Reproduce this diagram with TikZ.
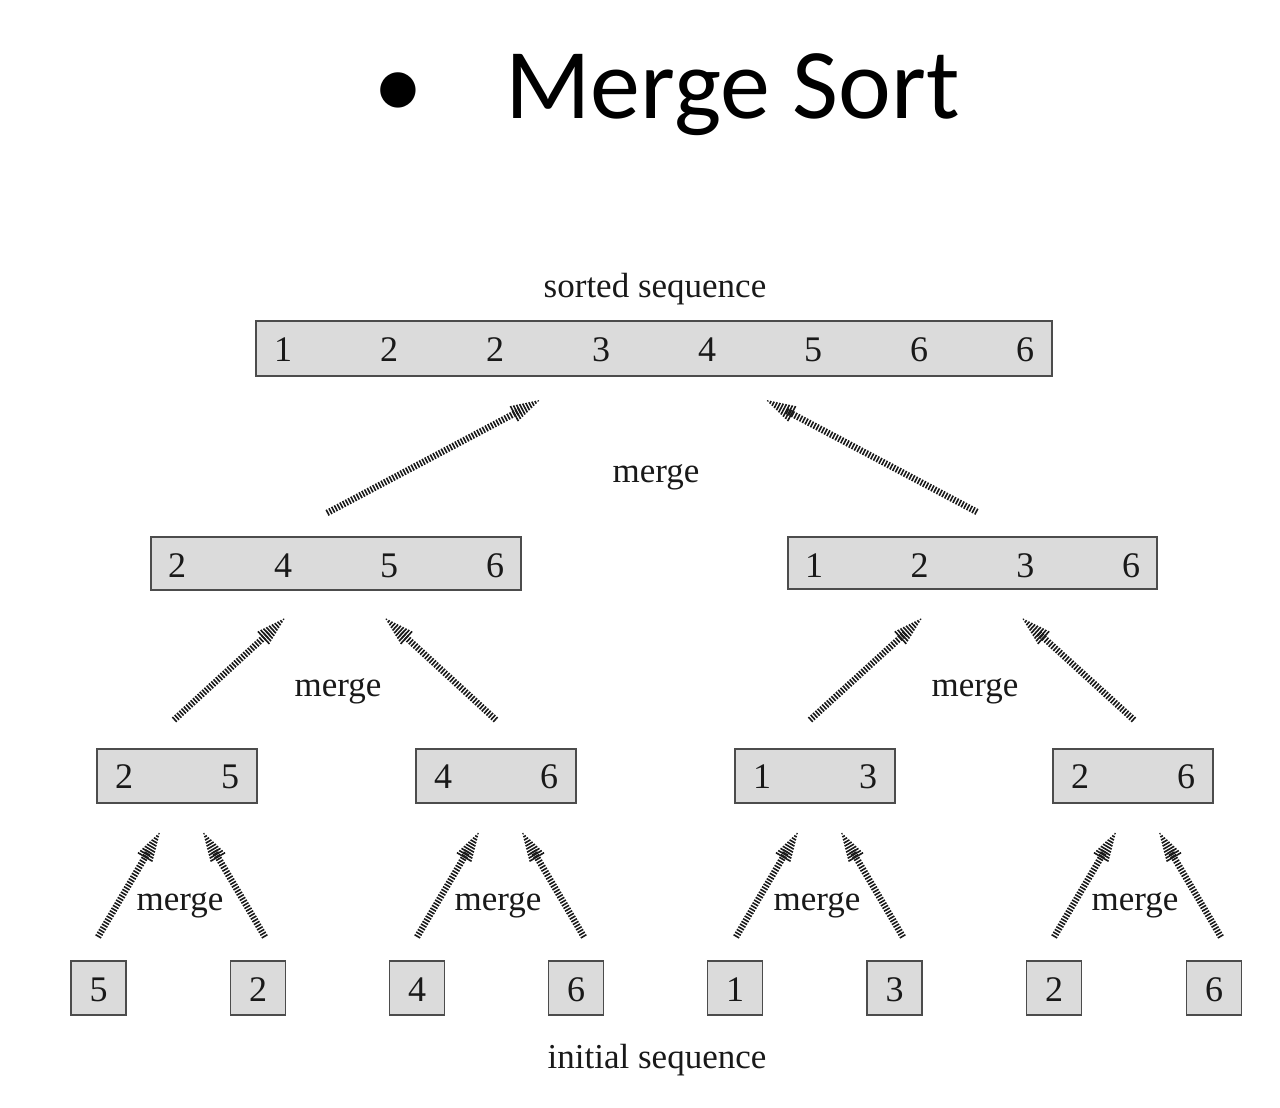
\documentclass[tikz,border=0pt]{standalone}
\usepackage{fontspec}
\setmainfont{Liberation Serif}
\newfontfamily\titlefont{Carlito}
\usetikzlibrary{calc}
\tikzset{
  box/.style={draw=black!70, fill=black!14, line width=1.8pt, inner sep=0pt},
  dig/.style={font=\fontsize{36}{36}\selectfont, text=black!90, inner sep=0pt},
  lbl/.style={font=\fontsize{35}{35}\selectfont, text=black!90, inner sep=0pt},
  shaft/.style={line width=6.5pt, dash pattern=on 1.6pt off 1.5pt, draw=black!90},
  headbar/.style={line width=1.6pt, draw=black!90},
}
\newcommand{\hatcharrow}[2]{%
  \draw[shaft] (#1) -- ($(#2)!22pt!(#1)$);
  \foreach \d in {2,5,...,29} {
    \pgfmathsetmacro{\w}{8.5*\d/29}
    \coordinate (hp) at ($(#2)!\d pt!(#1)$);
    \draw[headbar] ($(hp)!\w pt!90:(#1)$) -- ($(hp)!\w pt!-90:(#1)$);
  }
}
\begin{document}
\begin{tikzpicture}[x=1pt,y=-1pt]
\useasboundingbox (0,0) rectangle (1280,1108);
% title
\node[font=\titlefont\fontsize{100}{100}\selectfont, inner sep=0pt, anchor=base] (bullet) at (398,118) {\textbullet};
\node[font=\titlefont\fontsize{100}{100}\selectfont, inner sep=0pt, anchor=base west] (title) at (505,118) {Merge Sort};
% labels
\node[lbl] (sorted) at (655,289) {sorted sequence};
\node[lbl] (initial) at (657,1060) {initial sequence};
% top box
\node[box, minimum width=796pt, minimum height=55pt] (top) at (654,348.5) {};
\foreach \v [count=\i] in {1,2,2,3,4,5,6,6}
  \node[dig] (top-\i) at ({283+106*(\i-1)},350) {\v};
% level 2
\node[box, minimum width=370pt, minimum height=53pt] (la) at (336,563.5) {};
\foreach \v [count=\i] in {2,4,5,6}
  \node[dig] (la-\i) at ({177+106*(\i-1)},566) {\v};
\node[box, minimum width=369pt, minimum height=52pt] (lb) at (972.5,563) {};
\foreach \v [count=\i] in {1,2,3,6}
  \node[dig] (lb-\i) at ({814+105.7*(\i-1)},566) {\v};
% level 3
\foreach \cx/\a/\b [count=\i] in {177/2/5, 496/4/6, 815/1/3, 1133/2/6} {
  \node[box, minimum width=160pt, minimum height=54pt] (m\i) at (\cx,776) {};
  \node[dig] (m\i-a) at (\cx-53,777) {\a};
  \node[dig] (m\i-b) at (\cx+53,777) {\b};
}
% leaves
\foreach \cx/\v [count=\i] in {98.5/5, 258/2, 417/4, 576/6, 735/1, 894.5/3, 1054/2, 1214/6} {
  \node[box, minimum width=55pt, minimum height=54pt] (leaf\i) at (\cx,988) {};
  \node[dig] (leaf\i-v) at (\cx,990) {\v};
}
% merge labels
\node[lbl] (mg0) at (656,477) {merge};
\node[lbl] (mg1) at (338,691) {merge};
\node[lbl] (mg2) at (975,691) {merge};
\node[lbl] (mg3) at (180,905) {merge};
\node[lbl] (mg4) at (498,905) {merge};
\node[lbl] (mg5) at (817,905) {merge};
\node[lbl] (mg6) at (1135,905) {merge};
% arrow ends
\coordinate (t1s) at (327,513);  \coordinate (t1e) at (540,400);
\coordinate (t2s) at (977,512);  \coordinate (t2e) at (766,400);
\coordinate (a1s) at (174,720);  \coordinate (a1e) at (285,618);
\coordinate (a2s) at (496,720);  \coordinate (a2e) at (385,618);
\coordinate (a3s) at (810,720);  \coordinate (a3e) at (922,618);
\coordinate (a4s) at (1134,720); \coordinate (a4e) at (1022,618);
\foreach \cx [count=\i] in {177,496,815,1133} {
  \coordinate (b\i ls) at (\cx-79,937); \coordinate (b\i le) at (\cx-17,832);
  \coordinate (b\i rs) at (\cx+88,937); \coordinate (b\i re) at (\cx+26,832);
}
\hatcharrow{t1s}{t1e}
\hatcharrow{t2s}{t2e}
\hatcharrow{a1s}{a1e}
\hatcharrow{a2s}{a2e}
\hatcharrow{a3s}{a3e}
\hatcharrow{a4s}{a4e}
\foreach \i in {1,2,3,4} {
  \hatcharrow{b\i ls}{b\i le}
  \hatcharrow{b\i rs}{b\i re}
}
\end{tikzpicture}
\end{document}
